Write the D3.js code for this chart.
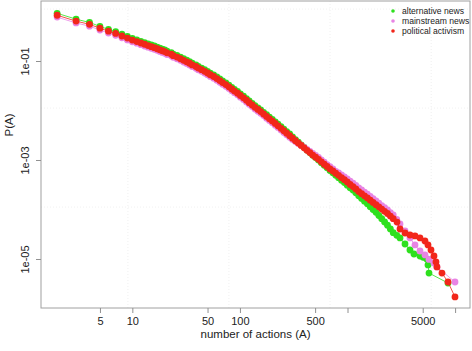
<!DOCTYPE html>
<html><head><meta charset="utf-8">
<script src="https://cdn.jsdelivr.net/npm/d3@7"></script>
<style>
html,body{margin:0;padding:0;background:#fff;}
svg{display:block;font-family:"Liberation Sans",Arial,sans-serif;}
</style></head>
<body><svg id="c" width="472" height="351"></svg>
<script>
// ---- data ----
const seriesNames = ["alternative news", "mainstream news", "political activism"];
const seriesColors = ["#2ee01e", "#e884e4", "#f2261a"];

const denseActions = [2,3,4,5,6,7,8,9,10,11,12,13,14,15,16,17,18,19,20,21,23,24,26,28,30,32,34,36,39,41,44,47,50,53,57,61,65,69,74,79,84,89,95,101,108,115,122,130,138,147,156,166,177,188,200,213,226,241,256,272,290,308,328,349,371,395,420,447,475,505,537,571,607,646,687,731,777,826,879,935,994,1057,1124,1195,1271,1352,1438,1529,1626,1729,1839,1956,2080,2212,2352,2502,2660];

const altP = [0.92,0.70,0.60,0.50,0.435,0.39,0.35,0.315,0.286,0.267,0.249,0.235,0.221,0.211,0.201,0.191,0.181,0.174,0.167,0.158,0.148,0.138,0.130,0.120,0.111,0.104,0.0972,0.0902,0.0836,0.0776,0.0720,0.0667,0.0618,0.0569,0.0525,0.0477,0.0434,0.0395,0.0361,0.0325,0.0294,0.0267,0.0242,0.0217,0.0194,0.0174,0.0156,0.0139,0.0125,0.0113,0.0103,0.0092,0.0082,0.00734,0.00659,0.00591,0.00529,0.00472,0.00421,0.00376,0.00335,0.00293,0.00257,0.00229,0.00203,0.00180,0.00159,0.00141,0.00125,0.00112,0.00100,0.00088,0.00078,0.00070,0.00061,0.00055,0.00049,0.00044,0.00039,0.00035,0.00031,0.000275,0.000247,0.000218,0.000189,0.000167,0.000147,0.000130,0.000114,0.000100,8.75e-5,7.57e-5,6.53e-5,5.61e-5,4.81e-5,4.05e-5,3.4e-5];
const altTailActions = [2870,3076,3423,3807,4148,4716,5050,5450,5598,5721,8590];
const altTailP = [3.0e-5,2.66e-5,2.01e-5,1.52e-5,1.26e-5,1.15e-5,1.08e-5,1.0e-5,7.6e-6,5.2e-6,3.27e-6];

const mainP = [0.77,0.587,0.505,0.422,0.367,0.330,0.294,0.266,0.245,0.229,0.214,0.201,0.190,0.181,0.172,0.164,0.156,0.149,0.144,0.135,0.127,0.119,0.111,0.103,0.0954,0.0892,0.0833,0.0773,0.0717,0.0666,0.0618,0.0572,0.0530,0.0488,0.0450,0.0409,0.0372,0.0339,0.0309,0.0279,0.0252,0.0229,0.0207,0.0186,0.0167,0.0149,0.0133,0.0120,0.0107,0.0097,0.0088,0.0079,0.0070,0.0063,0.00565,0.00506,0.00454,0.00405,0.00361,0.00322,0.00287,0.0026,0.00236,0.00216,0.00197,0.00180,0.00163,0.00149,0.00136,0.00124,0.00113,0.00101,0.00090,0.00081,0.00073,0.00066,0.00059,0.00055,0.00050,0.000456,0.000414,0.000375,0.000339,0.000307,0.000274,0.000249,0.000225,0.000204,0.000183,0.000165,0.000149,0.000134,0.000120,0.000109,9.78e-5,8.68e-5,7.77e-5];
const mainTailActions = [2870,3076,3423,3807,4238,4716,5248,5721,6364,6781,9977];
const mainTailP = [6.3e-5,5.09e-5,3.68e-5,2.66e-5,1.92e-5,1.45e-5,1.21e-5,9.8e-6,8.3e-6,6.9e-6,3.43e-6];

const polP = [0.84,0.64,0.55,0.46,0.40,0.36,0.32,0.29,0.265,0.247,0.231,0.218,0.205,0.195,0.186,0.177,0.168,0.161,0.155,0.146,0.137,0.128,0.120,0.111,0.103,0.0963,0.090,0.0835,0.0774,0.0719,0.0667,0.0618,0.0572,0.0527,0.0486,0.0442,0.0402,0.0366,0.0334,0.0301,0.0272,0.0247,0.0224,0.0201,0.0180,0.0161,0.0144,0.0129,0.0116,0.0105,0.0095,0.0085,0.0076,0.0068,0.0061,0.00547,0.0049,0.00437,0.0039,0.00348,0.0031,0.00276,0.00245,0.00220,0.00197,0.00176,0.00157,0.00141,0.00126,0.00114,0.00103,0.00092,0.00082,0.00074,0.00066,0.00060,0.00054,0.00049,0.00044,0.00040,0.00036,0.00032,0.00029,0.00026,0.00023,0.000209,0.000189,0.000171,0.000154,0.000139,0.000125,0.000113,0.000102,9.2e-5,8.29e-5,7.36e-5,6.53e-5];
const polTailActions = [2884,3076,3423,3807,4238,4716,5248,5598,5970,6364,6641,6781,7551,8590,9977];
const polTailP = [5.58e-5,4.04e-5,3.35e-5,3.05e-5,2.92e-5,2.66e-5,2.31e-5,1.92e-5,1.52e-5,1.15e-5,8.7e-6,6.9e-6,5.2e-6,3.43e-6,1.71e-6];

const xTicks = [5,10,50,100,500,1000,5000,10000];
const xTickLabels = {5:"5",10:"10",50:"50",100:"100",500:"500",5000:"5000"};
const yTicks = [1e-1,1e-3,1e-5];
const yTickLabels = ["1e-01","1e-03","1e-05"];
const gridX = [9.1, 79, 688, 6000];
const gridY = [1.12, 0.0112, 0.000112];

// ---- build ----
const series = [
  {name: seriesNames[0], color: seriesColors[0], a: denseActions.concat(altTailActions), p: altP.concat(altTailP)},
  {name: seriesNames[1], color: seriesColors[1], a: denseActions.concat(mainTailActions), p: mainP.concat(mainTailP)},
  {name: seriesNames[2], color: seriesColors[2], a: denseActions.concat(polTailActions), p: polP.concat(polTailP)}
];

const L = 41, R = 470, T = 1, B = 308;
const x = d3.scaleLog().domain([1.416, 13757]).range([L, R]);
const y = d3.scaleLog().domain([1.023e-6, 1.63]).range([B, T]);

const svg = d3.select("#c");

// grid
svg.append("g").selectAll("line").data(gridX).join("line")
  .attr("x1", d => x(d)).attr("x2", d => x(d)).attr("y1", T).attr("y2", B)
  .attr("stroke", "#ececec").attr("stroke-width", 0.8).attr("stroke-dasharray", "1,2");
svg.append("g").selectAll("line").data(gridY).join("line")
  .attr("y1", d => y(d)).attr("y2", d => y(d)).attr("x1", L).attr("x2", R)
  .attr("stroke", "#ececec").attr("stroke-width", 0.8).attr("stroke-dasharray", "1,2");

// series
const line = d3.line().x(d => x(d[0])).y(d => y(d[1]));
series.forEach(s => {
  const pts = s.a.map((a, i) => [a, s.p[i]]);
  const g = svg.append("g");
  g.append("path").datum(pts).attr("d", line).attr("fill", "none")
    .attr("stroke", s.color).attr("stroke-width", 0.8);
  g.selectAll("circle").data(pts).join("circle")
    .attr("cx", d => x(d[0])).attr("cy", d => y(d[1])).attr("r", 3.4)
    .attr("fill", s.color);
});

// box
svg.append("rect").attr("x", L).attr("y", T).attr("width", R - L).attr("height", B - T)
  .attr("fill", "none").attr("stroke", "#a0a0a0").attr("stroke-width", 1);

// x axis
const xa = svg.append("g").attr("transform", `translate(0,${B})`)
  .call(d3.axisBottom(x).tickValues(xTicks).tickSize(5).tickPadding(4)
    .tickFormat(d => xTickLabels[d] || ""));
xa.select(".domain").remove();
xa.selectAll("line").attr("stroke", "#909090");
xa.selectAll("text").attr("font-size", 11).attr("fill", "#222")
  .attr("font-family", "Liberation Sans, Arial, sans-serif");

// y axis
const ya = svg.append("g").attr("transform", `translate(${L},0)`)
  .call(d3.axisLeft(y).tickValues(yTicks).tickSize(5)
    .tickFormat((d, i) => yTickLabels[i]));
ya.select(".domain").remove();
ya.selectAll("line").attr("stroke", "#909090");
ya.selectAll("text").attr("font-size", 11).attr("fill", "#222")
  .attr("font-family", "Liberation Sans, Arial, sans-serif")
  .attr("text-anchor", "middle").attr("dy", 0).attr("x", 0)
  .attr("transform", "translate(-12,0) rotate(-90)");

// axis titles
svg.append("text").attr("x", (L + R) / 2).attr("y", 338).attr("text-anchor", "middle")
  .attr("font-size", 11.5).attr("fill", "#222").text("number of actions (A)");
svg.append("text").attr("transform", "translate(13,125) rotate(-90)").attr("text-anchor", "middle")
  .attr("font-size", 11.5).attr("fill", "#222").text("P(A)");

// legend
const lg = svg.append("g");
series.forEach((s, i) => {
  lg.append("circle").attr("cx", 393).attr("cy", 11 + i * 10).attr("r", 1.8).attr("fill", s.color);
  lg.append("text").attr("x", 402).attr("y", 11 + i * 10).attr("dy", "0.35em")
    .attr("font-size", 8.6).attr("fill", "#222").text(s.name);
});
</script>
</body></html>
